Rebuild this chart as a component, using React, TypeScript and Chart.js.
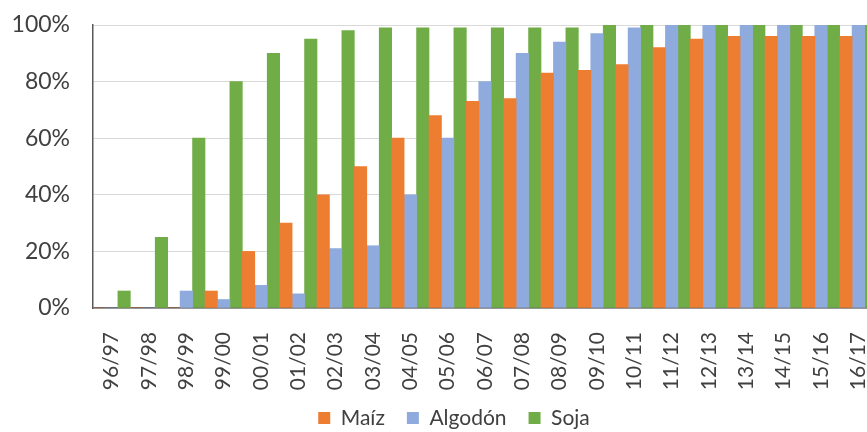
import React, { useEffect, useRef } from "react";
import { Chart, registerables } from "chart.js";

Chart.register(...registerables);

const campaigns = [
  "96/97", "97/98", "98/99", "99/00", "00/01", "01/02", "02/03", "03/04", "04/05", "05/06",
  "06/07", "07/08", "08/09", "09/10", "10/11", "11/12", "12/13", "13/14", "14/15", "15/16", "16/17",
];
const maiz = [0, 0, 0, 6, 20, 30, 40, 50, 60, 68, 73, 74, 83, 84, 86, 92, 95, 96, 96, 96, 96];
const algodon = [0, 0, 6, 3, 8, 5, 21, 22, 40, 60, 80, 90, 94, 97, 99, 100, 100, 100, 100, 100, 100];
const soja = [6, 25, 60, 80, 90, 95, 98, 99, 99, 99, 99, 99, 99, 100, 100, 100, 100, 100, 100, 100, 100];
const yTicks = [0, 20, 40, 60, 80, 100];

const FONT = "Lato, Carlito, 'Open Sans', sans-serif";

// Places the legend box where the reference shows it (centre x 454, item centre y ~418).
const legendPlacer = {
  id: "legendPlacer",
  beforeDraw(chart: any) {
    const lg = chart.legend;
    if (!lg) return;
    const w = lg.right - lg.left;
    const h = lg.bottom - lg.top;
    const pad = lg.options.labels.padding;
    const fs = lg.options.labels.font.size;
    const cx = 454;
    const cy = 418;
    lg.left = cx - w / 2;
    lg.right = cx + w / 2;
    lg.top = cy - pad - fs / 2;
    lg.bottom = lg.top + h;
  },
};

export default function App() {
  const ref = useRef<HTMLCanvasElement | null>(null);
  useEffect(() => {
    if (!ref.current) return;
    const chart = new Chart(ref.current, {
      type: "bar",
      data: {
        labels: campaigns,
        datasets: [
          { label: "Maíz", data: maiz, backgroundColor: "#ED7D31" },
          { label: "Algodón", data: algodon, backgroundColor: "#8FAADC" },
          { label: "Soja", data: soja, backgroundColor: "#70AD47" },
        ],
      },
      plugins: [legendPlacer],
      options: {
        animation: false,
        responsive: true,
        maintainAspectRatio: false,
        datasets: { bar: { barPercentage: 1, categoryPercentage: 1 } },
        layout: { padding: { left: 13, right: 23, top: 25, bottom: 0 } },
        plugins: {
          tooltip: { enabled: false },
          legend: {
            position: "bottom",
            labels: {
              boxWidth: 12,
              boxHeight: 12,
              padding: 22,
              color: "#404040",
              font: { family: FONT, size: 21 },
            },
          },
        },
        scales: {
          x: {
            grid: { display: true, color: "rgba(0,0,0,0)", drawTicks: true, tickLength: 21, tickColor: "rgba(0,0,0,0)" },
            border: { display: true, color: "#595959", width: 1.5 },
            afterFit: (s: any) => { s.height = 99; },
            ticks: {
              autoSkip: false,
              minRotation: 90,
              maxRotation: 90,
              padding: 3,
              color: "#404040",
              font: { family: FONT, size: 21 },
            },
          },
          y: {
            min: 0,
            max: 100,
            afterFit: (s: any) => { s.width = 80; },
            afterBuildTicks: (s: any) => { s.ticks = yTicks.map((v) => ({ value: v })); },
            grid: { color: "#D9D9D9", lineWidth: 1, drawTicks: true, tickLength: 20, tickColor: "rgba(0,0,0,0)" },
            border: { display: true, color: "#595959", width: 1.5 },
            ticks: {
              padding: 3,
              color: "#404040",
              font: { family: FONT, size: 23 },
              callback: (v: any) => v + "%",
            },
          },
        },
      },
    });
    return () => chart.destroy();
  }, []);
  return (
    <div style={{ position: "absolute", left: 0, top: 0, width: 867, height: 432, overflow: "hidden", background: "#fff" }}>
      <div style={{ position: "relative", width: 900, height: 460 }}>
        <canvas ref={ref} />
      </div>
    </div>
  );
}
